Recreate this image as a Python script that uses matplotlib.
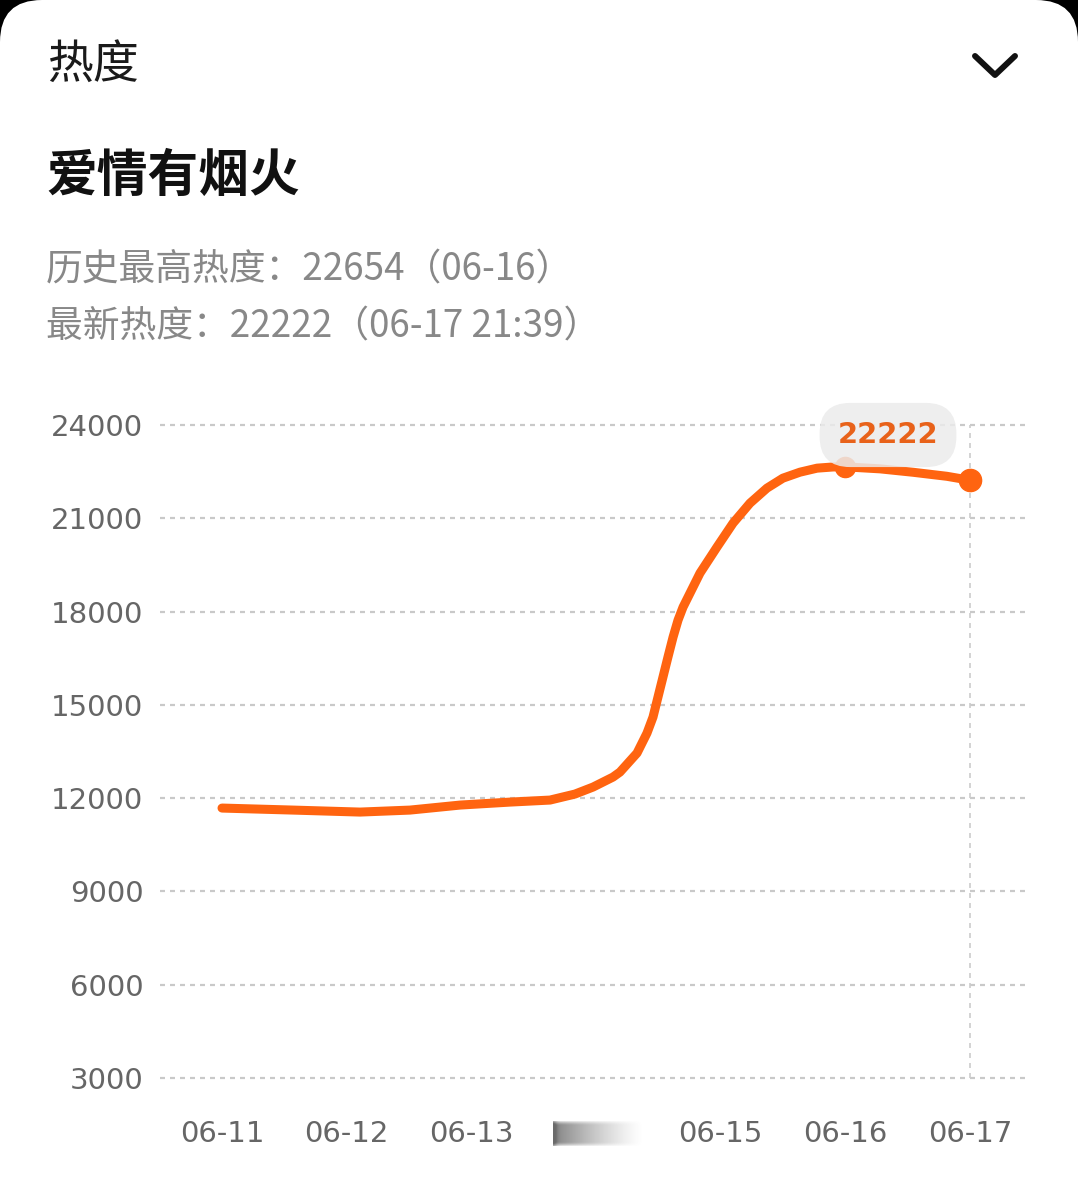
import numpy as np
import matplotlib
matplotlib.use("Agg")
import matplotlib.pyplot as plt
from matplotlib.patches import FancyBboxPatch

plt.rcParams['font.family'] = ['Noto Sans CJK SC', 'DejaVu Sans']
plt.rcParams['lines.scale_dashes'] = False

# ---- data ----
day_labels = ["06-11", "06-12", "06-13", "06-14", "06-15", "06-16", "06-17"]
# time position in days since 06-11
t_days = [0.000, 0.570, 1.107, 1.508, 1.909, 2.310, 2.631, 2.831, 2.976, 3.136, 3.192,
          3.329, 3.409, 3.457, 3.497, 3.537, 3.577, 3.618, 3.658, 3.698, 3.834, 3.970,
          4.099, 4.235, 4.371, 4.499, 4.636, 4.773, 4.901, 5.000, 5.278, 5.543, 5.815, 6.000]
heat = [11681, 11616, 11552, 11616, 11777, 11873, 11938, 12131, 12356, 12677, 12838,
        13449, 14092, 14606, 15249, 15892, 16535, 17178, 17725, 18143, 19236, 20072,
        20843, 21486, 21969, 22290, 22483, 22612, 22650, 22654, 22590, 22480, 22350, 22222]
y_ticks = [3000, 6000, 9000, 12000, 15000, 18000, 21000, 24000]
peak_value, peak_day = 22654, 5.0
latest_value, latest_day = 22222, 6.0

W, H = 1078, 1184
fig = plt.figure(figsize=(W / 100, H / 100), dpi=100)
fig.patch.set_facecolor('black')

# background card
bg = fig.add_axes([0, 0, 1, 1], zorder=0)
bg.set_xlim(0, W); bg.set_ylim(H, 0); bg.axis('off')
bg.add_patch(FancyBboxPatch((0, 0), W, H + 200, boxstyle="round,pad=0,rounding_size=42",
                            facecolor='white', edgecolor='none'))

orange = '#FF6410'
grey_txt = '#888888'

# header texts
bg.text(47, 65, "热度", fontsize=33, color='#1a1a1a', va='center', ha='left')
bg.plot([975, 995, 1015], [56, 75, 56], color='#111111', lw=4.3, solid_capstyle='round',
        solid_joinstyle='round')
bg.text(46, 176, "爱情有烟火", fontsize=36.5, fontweight='bold', color='#111111',
        va='center', ha='left')
bg.text(46, 270, "历史最高热度：%d（06-16）" % peak_value, fontsize=26.5, color=grey_txt,
        va='center', ha='left')
bg.text(46, 327, "最新热度：%d（06-17 21:39）" % latest_value, fontsize=26.5, color=grey_txt,
        va='center', ha='left')

# main chart axes
x_left, x_right, y_top, y_bot = 160, 1028, 425, 1078
ax = fig.add_axes([x_left / W, 1 - y_bot / H, (x_right - x_left) / W, (y_bot - y_top) / H], zorder=1)
ax.patch.set_alpha(0)
x0 = (x_left - 222) / 124.67
x1 = (x_right - 222) / 124.67
ax.set_xlim(x0, x1)
ax.set_ylim(3000, 24000)
for s in ax.spines.values():
    s.set_visible(False)
ax.set_yticks(y_ticks)
ax.set_yticklabels([str(v) for v in y_ticks], fontsize=21, color='#666666', family='DejaVu Sans')
ax.tick_params(axis='y', length=0, pad=12)
xt = [i for i in range(len(day_labels)) if i != 3]
ax.set_xticks(xt)
ax.set_xticklabels([day_labels[i] for i in xt], fontsize=21, color='#666666', family='DejaVu Sans')
ax.tick_params(axis='x', length=0, pad=30)
for v in y_ticks:
    ax.axhline(v, color='#c9c9c9', lw=1.6, ls=(0, (3.6, 3.6)), zorder=1, clip_on=False)
ax.plot([latest_day, latest_day], [3000, 24000], color='#cccccc', lw=1.2,
        ls=(0, (3.6, 3.6)), zorder=1, clip_on=False)

ax.plot(t_days, heat, color=orange, lw=6.5, solid_capstyle='round', solid_joinstyle='round',
        zorder=3, clip_on=False)
ax.plot([peak_day], [peak_value], 'o', color=orange, ms=14.5, zorder=4, clip_on=False)
ax.plot([latest_day], [latest_value], 'o', color=orange, ms=16, zorder=4, clip_on=False)

# foreground overlay: bubble and blurred label
fg = fig.add_axes([0, 0, 1, 1], zorder=2)
fg.set_xlim(0, W); fg.set_ylim(H, 0); fg.axis('off')
fg.text(888, 435, str(latest_value), fontsize=21, fontweight='bold', color='#E8621A',
        family='DejaVu Sans', ha='center', va='center',
        bbox=dict(boxstyle='round,pad=0.62,rounding_size=1.05', facecolor='#ebebeb',
                  edgecolor='none', alpha=0.85))

# blurred 06-14 label
bx0, bx1, by0, by1 = 553, 648, 1121, 1146
blur = fig.add_axes([bx0 / W, 1 - by1 / H, (bx1 - bx0) / W, (by1 - by0) / H], zorder=2)
blur.axis('off')
nx, ny = 200, 40
xx = np.linspace(0, 1, nx)
yy = np.linspace(-1, 1, ny)
X, Y = np.meshgrid(xx, yy)
alpha = np.clip(1 - X * 1.05, 0, 1) ** 1.3 * 0.75
alpha = alpha * np.clip(1.25 - np.abs(Y) ** 4, 0, 1)
edge = np.exp(-(X / 0.04) ** 2) * 0.3
img = np.zeros((ny, nx, 4))
img[..., :3] = 0.35
img[..., 3] = np.clip(alpha + edge, 0, 0.9)
blur.imshow(img, aspect='auto', extent=[0, 1, 0, 1], interpolation='bilinear')

fig.savefig('out.png', dpi=100, facecolor=fig.get_facecolor())
